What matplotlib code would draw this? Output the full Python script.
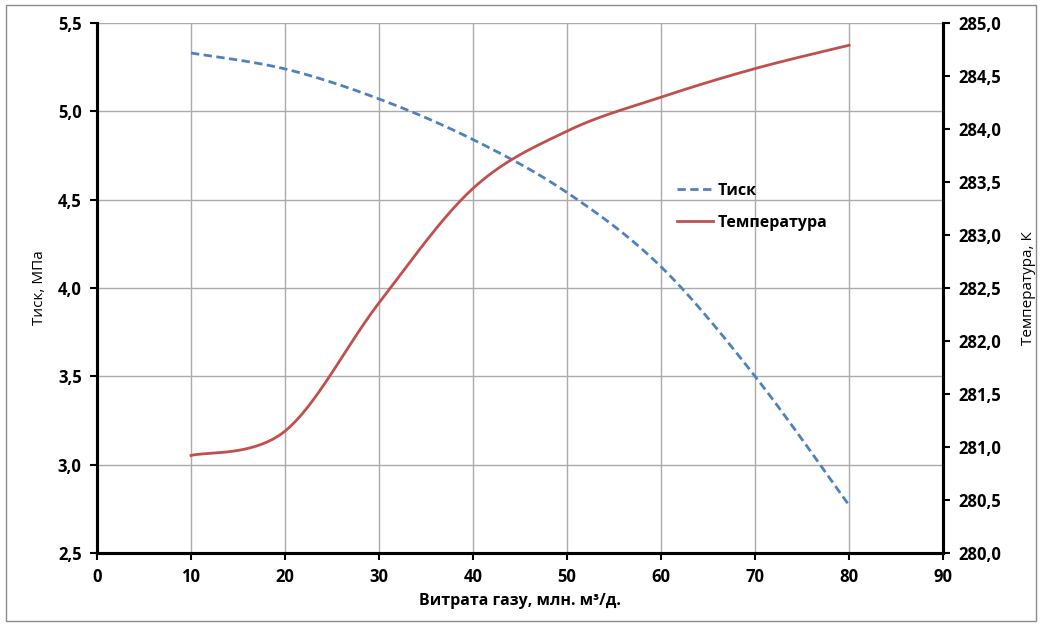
import numpy as np
import matplotlib
matplotlib.use("Agg")
import matplotlib.pyplot as plt
from matplotlib.patches import Rectangle

# gas flow rate, mln m3/day
flow = [10, 20, 30, 40, 50, 60, 70, 80]
# pressure, MPa
pressure = [5.33, 5.24, 5.07, 4.84, 4.54, 4.12, 3.50, 2.77]
# temperature, K
temperature = [280.92, 281.15, 282.36, 283.44, 283.98, 284.30, 284.57, 284.79]

plt.rcParams['font.family'] = ['Open Sans', 'DejaVu Sans']


# smooth curve through the points like Excel's "smoothed line"
def smooth(xs, ys, n=40):
    xs = np.asarray(xs, float)
    ys = np.asarray(ys, float)
    px = np.concatenate([[xs[0]], xs, [xs[-1]]])
    py = np.concatenate([[ys[0]], ys, [ys[-1]]])
    out_x, out_y = [], []
    for i in range(1, len(px) - 2):
        p0 = np.array([px[i - 1], py[i - 1]])
        p1 = np.array([px[i], py[i]])
        p2 = np.array([px[i + 1], py[i + 1]])
        p3 = np.array([px[i + 2], py[i + 2]])
        c1 = p1 + (p2 - p0) / 6
        c2 = p2 - (p3 - p1) / 6
        t = np.linspace(0, 1, n)[:, None]
        pts = (1 - t) ** 3 * p1 + 3 * (1 - t) ** 2 * t * c1 + 3 * (1 - t) * t ** 2 * c2 + t ** 3 * p2
        out_x.extend(pts[:, 0])
        out_y.extend(pts[:, 1])
    return out_x, out_y


fig = plt.figure(figsize=(10.42, 6.26), dpi=100)
ax = fig.add_axes([0.0931, 0.1166, 0.812, 0.8467])
ax2 = ax.twinx()

fig.patches.append(Rectangle((0.006, 0.008), 0.988, 0.984, transform=fig.transFigure,
                             fill=False, edgecolor='#8c8c8c', linewidth=1.0))

sx, sy = smooth(flow, pressure)
l1, = ax.plot(sx, sy, color='#4F81BD', linewidth=2.0, linestyle=(0, (3, 1.6)), label='Тиск')
tx, ty = smooth(flow, temperature)
l2, = ax2.plot(tx, ty, color='#C0504D', linewidth=2.0, label='Температура')

ax.set_xlim(0, 90)
ax.set_ylim(2.5, 5.5)
ax2.set_ylim(280, 285)
ax.set_xticks(np.arange(0, 91, 10))
ax.set_yticks(np.arange(2.5, 5.51, 0.5))
ax2.set_yticks(np.arange(280, 285.01, 0.5))
ax.set_yticklabels([f"{v:.1f}".replace('.', ',') for v in np.arange(2.5, 5.51, 0.5)])
ax2.set_yticklabels([f"{v:.1f}".replace('.', ',') for v in np.arange(280, 285.01, 0.5)])

ax.grid(True, color='#ababab', linewidth=1.0)
ax.set_axisbelow(True)

for a in (ax, ax2):
    a.spines['top'].set_visible(False)
    for s in ('left', 'right', 'bottom'):
        a.spines[s].set_linewidth(2.2)
        a.spines[s].set_color('black')
    a.tick_params(width=1.5, length=5, labelsize=12, pad=6)
    for lab in a.get_xticklabels() + a.get_yticklabels():
        lab.set_fontweight('bold')

ax.set_xlabel('Витрата газу, млн. м³/д.', fontsize=11.5, fontweight='bold', labelpad=5)
ax.set_ylabel('Тиск, МПа', fontsize=11, labelpad=8)
ax2.set_ylabel('Температура, К', fontsize=11, labelpad=14)

leg = ax.legend(handles=[l1, l2], loc='upper left', bbox_to_anchor=(0.668, 0.726),
                frameon=False, prop={'weight': 'bold', 'size': 11.5},
                handlelength=2.3, handletextpad=0.3, labelspacing=1.0)

fig.savefig('out.png', dpi=100)
